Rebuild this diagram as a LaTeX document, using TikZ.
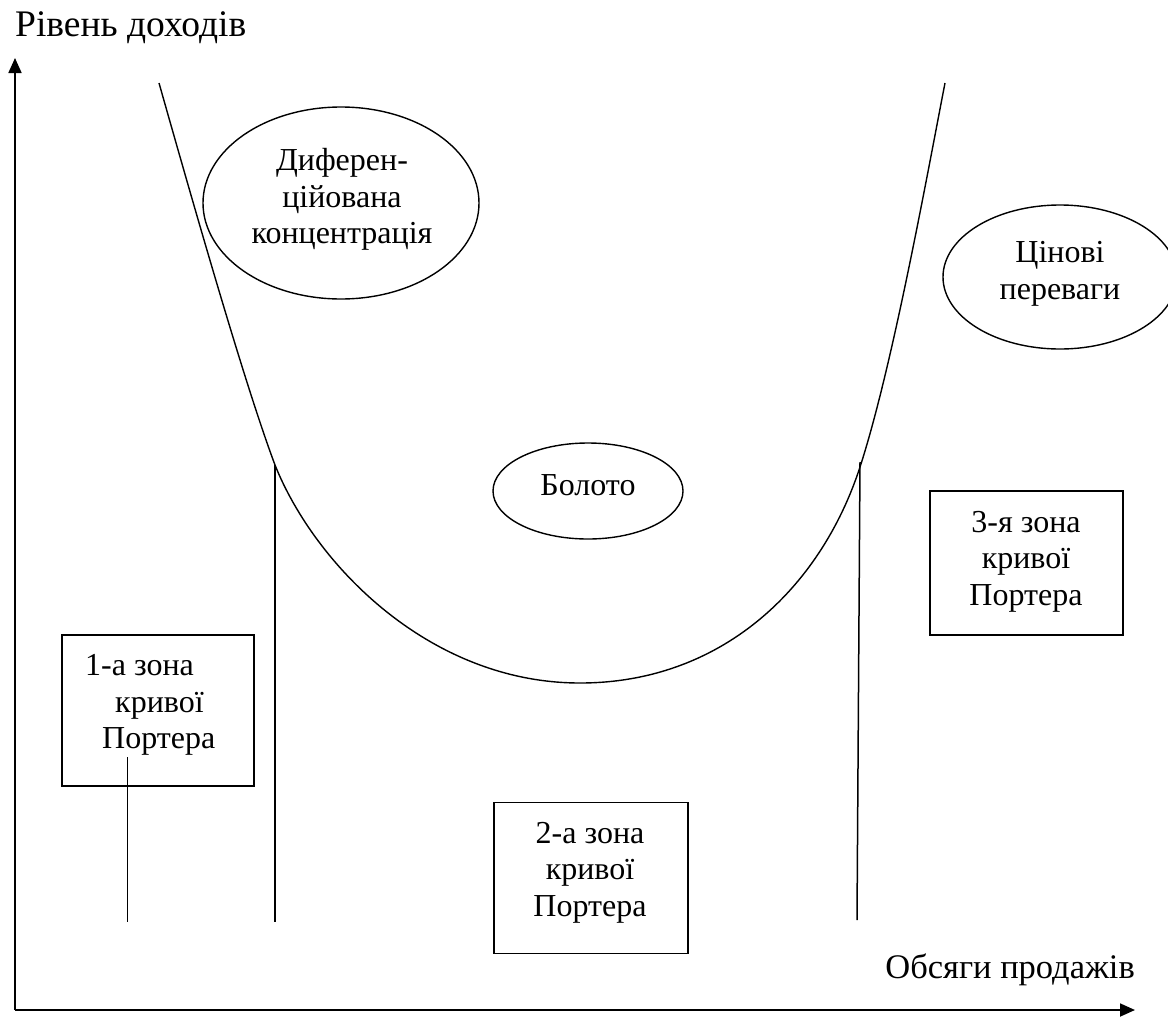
\documentclass[tikz,border=0pt]{standalone}
\usepackage{fontspec}
\setmainfont{Liberation Serif}
\usetikzlibrary{arrows.meta,shapes.geometric}
\begin{document}
\begin{tikzpicture}[x=1pt,y=-1pt,
  axis/.style={line width=1.8pt,-{Triangle[length=15pt,width=13pt]}},
  curve/.style={line width=1.4pt},
  divider/.style={line width=1.5pt},
  thinline/.style={line width=0.9pt},
  zonebox/.style={draw,line width=1.5pt,rectangle,inner sep=0pt},
  oval/.style={draw,line width=1.4pt,ellipse,inner sep=0pt},
  lbl/.style={font=\fontsize{32}{36.5}\selectfont,align=center,inner sep=0pt},
  axlbl/.style={font=\fontsize{34.5}{40}\selectfont,inner sep=0pt}
]
\useasboundingbox (0,0) rectangle (1168,1018);

% axes
\coordinate (O) at (15,1010);
\coordinate (ytip) at (15,58);
\coordinate (xtip) at (1135,1010);
\draw[axis] (O) -- (ytip);
\draw[axis] (O) -- (xtip);
\node[axlbl,font=\fontsize{37.5}{42}\selectfont,anchor=base west] (ylab) at (15,36) {Рівень доходів};
\node[axlbl,anchor=base east] (xlab) at (1135,978) {Обсяги продажів};

% U-shaped Porter curve
\coordinate (cL) at (159,83);
\coordinate (cLm) at (275,465);
\coordinate (cB) at (580,683);
\coordinate (cRm) at (860,467);
\coordinate (cR) at (945,83);
\draw[curve] (cL) .. controls (195,210) and (245,385) .. (cLm)
  .. controls (315,565) and (430,683) .. (cB)
  .. controls (720,683) and (820,590) .. (cRm)
  .. controls (892.5,367) and (927.5,173) .. (cR);

% zone dividers
\coordinate (d1t) at (275,465);
\coordinate (d1b) at (275,922);
\coordinate (d2t) at (860,462);
\coordinate (d2b) at (857,920);
\coordinate (d0t) at (127,757);
\coordinate (d0b) at (127,922);
\draw[divider] (d1t) -- (d1b);
\draw[divider] (d2t) -- (d2b);
\draw[thinline] (d0t) -- (d0b);

% strategy ovals
\node[oval,minimum width=276pt,minimum height=192pt] (diff) at (341,203) {};
\node[lbl] (difft) at (342,199.5) {Диферен-\\ційована\\концентрація};
\node[oval,minimum width=234pt,minimum height=144pt] (price) at (1060,277) {};
\node[lbl] (pricet) at (1060,274) {Цінові\\переваги};
\node[oval,minimum width=190pt,minimum height=96pt] (swamp) at (588,491) {};
\node[lbl,anchor=base] (swampt) at (588,495) {Болото};

% zone boxes
\node[zonebox,minimum width=192pt,minimum height=151pt] (z1) at (158,710.5) {};
\node[lbl,anchor=base west] (z1a) at (85,675) {1-а зона};
\node[lbl,anchor=base west] (z1b) at (115,712) {кривої};
\node[lbl,anchor=base west] (z1c) at (102,748) {Портера};
\node[zonebox,minimum width=194pt,minimum height=151pt] (z2) at (591,878) {};
\node[lbl] (z2t) at (590,872.5) {2-а зона\\кривої\\Портера};
\node[zonebox,minimum width=193pt,minimum height=144pt] (z3) at (1026.5,563) {};
\node[lbl] (z3t) at (1026,561.5) {3-я зона\\кривої\\Портера};
\end{tikzpicture}
\end{document}
